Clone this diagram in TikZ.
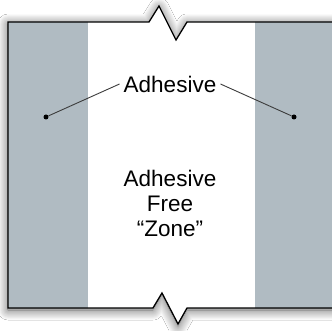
\documentclass[tikz,border=0pt]{standalone}
\usepackage{fontspec}
\setmainfont{Liberation Sans}
\usetikzlibrary{shadows.blur}
\definecolor{bandgray}{RGB}{176,187,194}
\definecolor{leadgray}{RGB}{60,60,60}
\begin{document}
\begin{tikzpicture}[x=1pt,y=-1pt,
  label/.style={font=\fontsize{22.5}{25}\selectfont, align=center, inner sep=4pt},
  dotnode/.style={circle, fill=black, inner sep=0pt, minimum size=5pt},
  leader/.style={draw=leadgray, line width=0.9pt}]
\useasboundingbox (0,0) rectangle (332,331);
\clip (0,0) rectangle (332,331);
\def\outline{(8,22) -- (149,22) -- (159,6) -- (176,40) -- (187,22) -- (345,22) -- (345,308) -- (187,308) -- (178,324) -- (162,293) -- (153,308) -- (8,308) -- cycle}
\fill[white] (0,0) rectangle (332,331);
% shadow
\path[fill=bandgray, blur shadow={shadow xshift=0pt, shadow yshift=-2pt, shadow blur radius=10pt, shadow blur steps=14, shadow opacity=65}] \outline;
\begin{scope}
  \clip \outline;
  \fill[white] (88,0) rectangle (255,331);
\end{scope}
\draw[line width=1.3pt, line join=miter] \outline;
\node[label] (lab) at (170,84) {Adhesive};
\node[label] (zone) at (170,203) {Adhesive\\Free\\“Zone”};
\node[dotnode] (dotL) at (46,117) {};
\node[dotnode] (dotR) at (294,117) {};
\draw[leader] (dotL) -- (lab.west);
\draw[leader] (dotR) -- (lab.east);
\end{tikzpicture}
\end{document}
